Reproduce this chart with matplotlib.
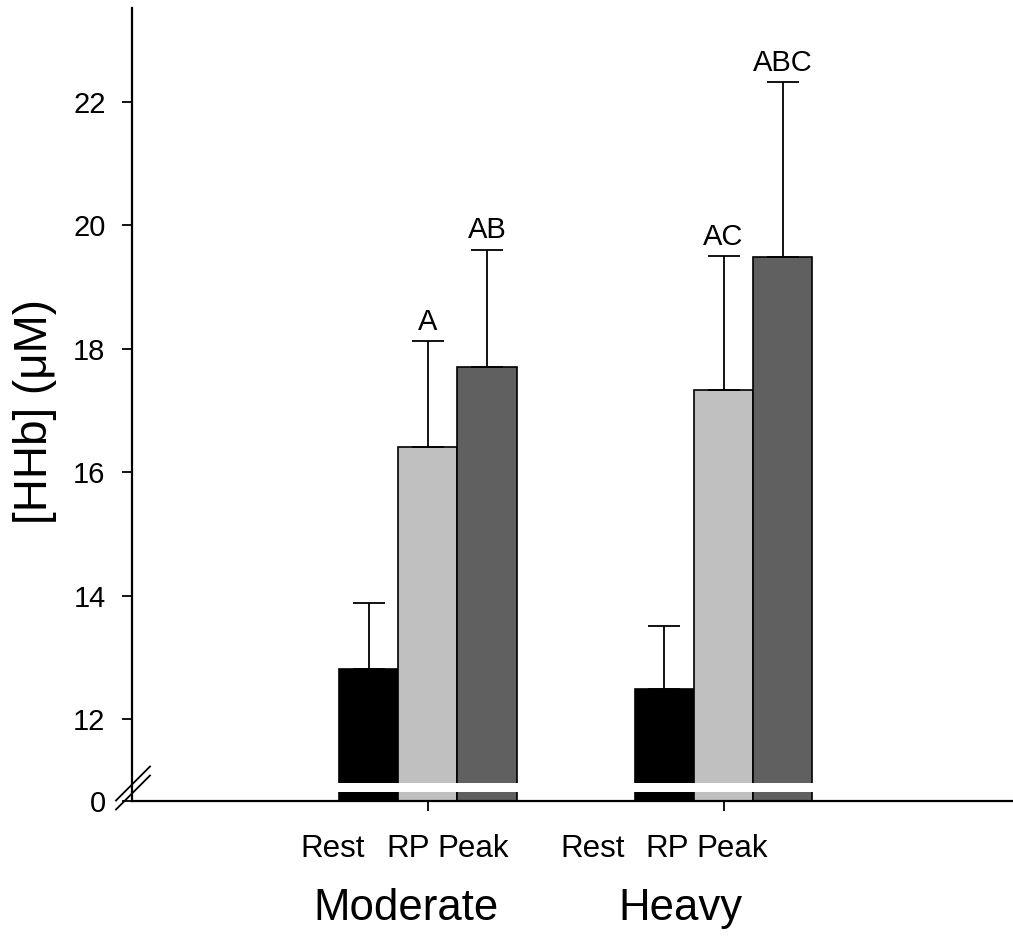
import matplotlib
matplotlib.use("Agg")
import matplotlib.pyplot as plt
from matplotlib.lines import Line2D
import numpy as np

plt.rcParams['font.family'] = ['Liberation Sans', 'DejaVu Sans']

# ---- data ----
groups = ["Moderate", "Heavy"]
conditions = ["Rest", "RP", "Peak"]
means = {
    "Rest": [12.81, 12.49],
    "RP":   [16.41, 17.34],
    "Peak": [17.71, 19.49],
}
sds = {
    "Rest": [1.08, 1.02],
    "RP":   [1.72, 2.17],
    "Peak": [1.90, 2.83],
}
sig_labels = {
    "Rest": ["", ""],
    "RP":   ["A", "AC"],
    "Peak": ["AB", "ABC"],
}
colors = {"Rest": "#000000", "RP": "#c0c0c0", "Peak": "#606060"}
yticks_top = [12, 14, 16, 18, 20, 22]

W, H = 1013, 940
fig = plt.figure(figsize=(W / 100, H / 100), dpi=100)

def fx(px):
    return px / W

def fy(py):
    return 1 - py / H

x_left, x_right = 132, 1012
top_px, gap_top_px, gap_bot_px, axis_px = 8, 783, 792, 801
px_per_unit = (719.3 - 102) / 10.0

ax_top = fig.add_axes([fx(x_left), fy(gap_bot_px), fx(x_right) - fx(x_left), fy(top_px) - fy(gap_bot_px)])
ax_bot = fig.add_axes([fx(x_left), fy(axis_px), fx(x_right) - fx(x_left), fy(gap_bot_px) - fy(axis_px)])

ylo = 12 - (gap_bot_px - 719.3) / px_per_unit
yhi = 12 + (719.3 - top_px) / px_per_unit
ygap = 12 - (gap_top_px - 719.3) / px_per_unit

group_x = np.arange(1, len(groups) + 1)
width = 0.2
offsets = {"Rest": -width, "RP": 0.0, "Peak": width}

for ax in (ax_top, ax_bot):
    for c in conditions:
        xs = group_x + offsets[c]
        ax.bar(xs, means[c], width=width, color=colors[c], edgecolor='black',
               linewidth=1.2, zorder=1)
    ax.set_xlim(0, 2.975)
    for s in ("top", "right"):
        ax.spines[s].set_visible(False)
    ax.spines["left"].set_linewidth(1.6)

# error bars (upper only) and significance letters on top axis
for c in conditions:
    xs = group_x + offsets[c]
    ax_top.errorbar(xs, means[c], yerr=[np.zeros(len(xs)), sds[c]], fmt='none',
                    ecolor='black', elinewidth=1.3, capsize=11.5, capthick=1.3, zorder=2)
    for x, m, s, lab in zip(xs, means[c], sds[c], sig_labels[c]):
        if lab:
            ax_top.annotate(lab, (x, m + s), xytext=(0, 8), textcoords='offset points',
                            ha='center', va='baseline', fontsize=21)

ax_top.set_ylim(ylo, yhi)
ax_top.axhspan(ylo, ygap, color='white', zorder=1.5, lw=0)
ax_top.spines["bottom"].set_visible(False)
ax_top.set_xticks([])
ax_top.set_yticks(yticks_top)
ax_top.tick_params(axis='y', length=7, width=1.3, pad=12, labelsize=21)

ax_bot.set_ylim(0, 1)
ax_bot.set_yticks([0])
ax_bot.tick_params(axis='y', length=7, width=1.3, pad=12, labelsize=21)
ax_bot.spines["bottom"].set_linewidth(1.6)
ax_bot.set_xticks(group_x)
ax_bot.set_xticklabels([])
ax_bot.tick_params(axis='x', length=7.5, width=1.3, direction='out')

# axis break marks
for dy in (0, 9):
    fig.add_artist(Line2D([fx(116), fx(150)], [fy(800.5 + dy), fy(766.5 + dy)],
                          color='black', lw=1.3))

# category labels
sub_x = {"Moderate": [333, 408, 473], "Heavy": [593, 667, 732]}
grp_x = {"Moderate": 406, "Heavy": 680}
for g in groups:
    for c, px in zip(conditions, sub_x[g]):
        fig.text(fx(px), fy(857), c, ha='center', va='baseline', fontsize=22.5)
    fig.text(fx(grp_x[g]), fy(920), g, ha='center', va='baseline', fontsize=31.5)

fig.text(fx(35), fy(411), "[HHb] (\u03bcM)", rotation=90, ha='center', va='center', fontsize=33)

fig.savefig("out.png", dpi=100)
